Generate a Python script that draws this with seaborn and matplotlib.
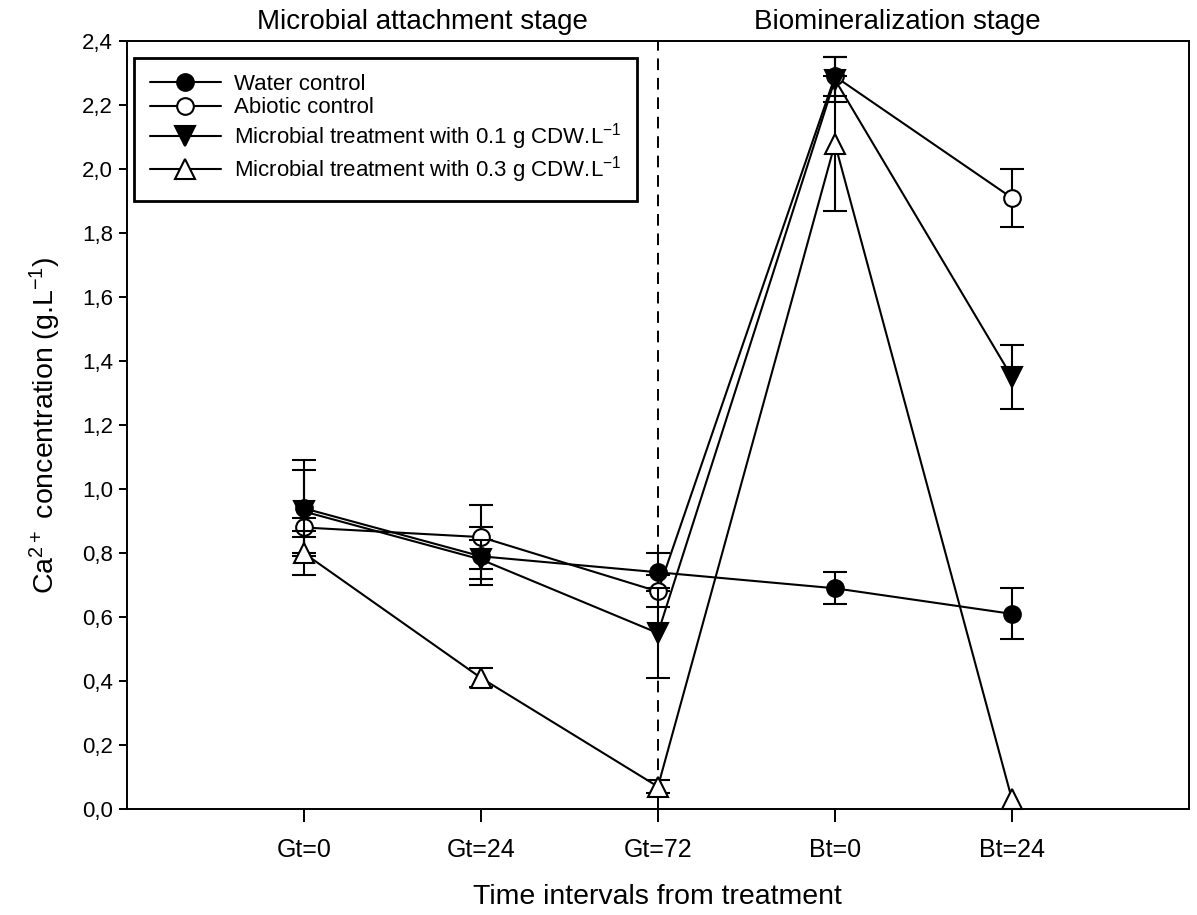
import matplotlib
matplotlib.use("Agg")
import matplotlib.pyplot as plt
import seaborn as sns
import numpy as np
import pandas as pd
from matplotlib.ticker import FuncFormatter

times = ["Gt=0", "Gt=24", "Gt=72", "Bt=0", "Bt=24"]
water = [0.94, 0.79, 0.74, 0.69, 0.61]
water_err = [0.15, 0.09, 0.06, 0.05, 0.08]
abiotic = [0.88, 0.85, 0.68, 2.29, 1.91]
abiotic_err = [0.03, 0.10, 0.05, 0.06, 0.09]
micro01 = [0.93, 0.78, 0.55, 2.28, 1.35]
micro01_err = [0.13, 0.06, 0.14, 0.07, 0.10]
micro03 = [0.80, 0.41, 0.07, 2.08, 0.03]
micro03_err = [0.07, 0.03, 0.02, 0.21, np.nan]

sns.set_theme(style="ticks")
plt.rcParams['font.family'] = ['Liberation Sans', 'DejaVu Sans']
plt.rcParams['mathtext.default'] = 'regular'
plt.rcParams['text.color'] = 'black'
plt.rcParams['axes.labelcolor'] = 'black'
plt.rcParams['xtick.color'] = 'black'
plt.rcParams['ytick.color'] = 'black'

fig = plt.figure(figsize=(11.97, 9.15), dpi=100)
ax = fig.add_axes([0.106, 0.1158, 0.8873, 0.8392])

xpos = np.arange(1, len(times) + 1)
series = [
    ("Water control", water, water_err, "o", "black"),
    ("Abiotic control", abiotic, abiotic_err, "o", "white"),
    ("Microbial treatment with 0.1 g CDW.L$^{-1}$", micro01, micro01_err, "v", "black"),
    ("Microbial treatment with 0.3 g CDW.L$^{-1}$", micro03, micro03_err, "^", "white"),
]

ax.axvline(3, color="black", linestyle=(0, (6, 4)), linewidth=1.4, zorder=1)

for i, (lab, vals, errs, mk, fc) in enumerate(series):
    ax.errorbar(xpos, vals, yerr=errs, fmt="none", ecolor="black",
                elinewidth=1.5, capsize=8.5, capthick=1.5, zorder=2 + i)
    df = pd.DataFrame({"x": xpos, "y": vals})
    sns.lineplot(data=df, x="x", y="y", ax=ax, color="black", marker=mk,
                 markersize=12 if mk == "o" else 14, markerfacecolor=fc,
                 markeredgecolor="black", markeredgewidth=1.5,
                 linewidth=1.5, label=lab, zorder=3 + i)

for ln in ax.lines:
    ln.set_clip_on(False)

ax.set_xlim(0, 6)
ax.set_ylim(0, 2.4)
ax.set_xticks(xpos)
ax.set_xticklabels(times, fontsize=18)
ax.set_yticks(np.arange(0, 2.41, 0.2))
ax.yaxis.set_major_formatter(FuncFormatter(lambda v, p: f"{v:.1f}".replace(".", ",")))
ax.tick_params(axis="y", labelsize=16, length=6, width=1.4, color="black", pad=4)
ax.tick_params(axis="x", length=9, width=1.4, color="black", pad=12)
for s in ax.spines.values():
    s.set_visible(True)
    s.set_color("black")
    s.set_linewidth(1.4)
    s.set_zorder(10)

ax.set_xlabel("Time intervals from treatment", fontsize=20.5, labelpad=16)
ax.set_ylabel("Ca$^{2+}$ concentration (g.L$^{-1}$)", fontsize=20.5, labelpad=14)

ax.text(1.67, 2.42, "Microbial attachment stage", ha="center", va="bottom", fontsize=20)
ax.text(4.35, 2.42, "Biomineralization stage", ha="center", va="bottom", fontsize=20)

leg = ax.legend(loc="upper left", bbox_to_anchor=(0.007, 0.978), fontsize=16,
                frameon=True, fancybox=False, edgecolor="black", framealpha=1,
                handlelength=3.2, borderpad=0.7, labelspacing=0.12, handletextpad=0.6,
                borderaxespad=0)
leg.get_frame().set_linewidth(2.0)
leg.set_zorder(20)

fig.savefig("out.png", dpi=100)
